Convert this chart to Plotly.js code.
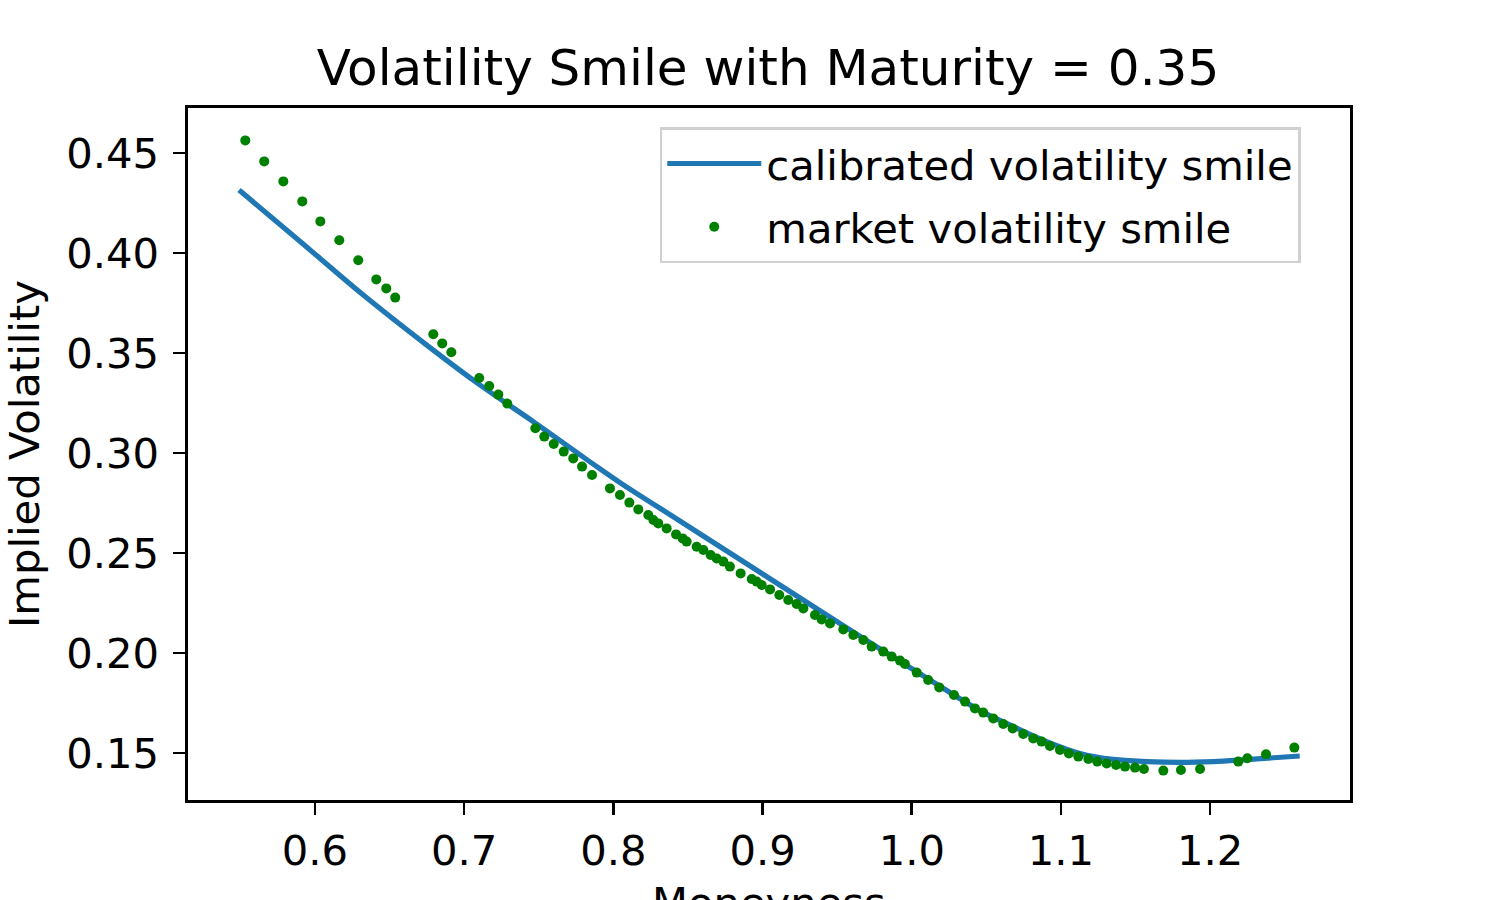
<!DOCTYPE html>
<html>
<head>
<meta charset="utf-8">
<script src="https://cdn.plot.ly/plotly-3.0.1.min.js"></script>
<style>
  html, body { margin: 0; padding: 0; background: #fff; }
  #chart { width: 1500px; height: 900px; }
</style>
</head>
<body>
<div id="chart"></div>
<script>
// market quotes (moneyness, implied vol)
const marketMoneyness = [
  0.5533, 0.5660, 0.5788, 0.5915, 0.6036, 0.6163, 0.6290, 0.6411, 0.6478, 0.6538,
  0.6793, 0.6853, 0.6914, 0.7101, 0.7168, 0.7229, 0.7289, 0.7477, 0.7537, 0.7600,
  0.7667, 0.7731, 0.7790, 0.7857, 0.7977, 0.8044, 0.8107, 0.8167, 0.8234, 0.8268,
  0.8301, 0.8357, 0.8420, 0.8464, 0.8491, 0.8558, 0.8603, 0.8652, 0.8692, 0.8737,
  0.8781, 0.8853, 0.8927, 0.8960, 0.8994, 0.9050, 0.9112, 0.9172, 0.9228, 0.9273,
  0.9351, 0.9396, 0.9452, 0.9541, 0.9608, 0.9675, 0.9731, 0.9809, 0.9865, 0.9921,
  0.9954, 1.0033, 1.0110, 1.0184, 1.0283, 1.0357, 1.0423, 1.0479, 1.0546, 1.0613,
  1.0676, 1.0747, 1.0814, 1.0870, 1.0926, 1.0993, 1.1053, 1.1116, 1.1183, 1.1243,
  1.1306, 1.1369, 1.1429, 1.1496, 1.1556, 1.1686, 1.1804, 1.1932, 1.2188, 1.2249,
  1.2374, 1.2564
];
const marketVol = [
  0.4563, 0.4458, 0.4358, 0.4258, 0.4158, 0.4064, 0.3964, 0.3868, 0.3823, 0.3777,
  0.3594, 0.3548, 0.3504, 0.3375, 0.3335, 0.3292, 0.3247, 0.3124, 0.3082, 0.3045,
  0.3007, 0.2973, 0.2932, 0.2890, 0.2823, 0.2790, 0.2752, 0.2718, 0.2690, 0.2665,
  0.2648, 0.2623, 0.2593, 0.2573, 0.2557, 0.2531, 0.2515, 0.2490, 0.2473, 0.2457,
  0.2432, 0.2398, 0.2370, 0.2357, 0.2340, 0.2318, 0.2290, 0.2265, 0.2245, 0.2223,
  0.2190, 0.2168, 0.2148, 0.2118, 0.2090, 0.2065, 0.2032, 0.2007, 0.1982, 0.1962,
  0.1945, 0.1902, 0.1865, 0.1828, 0.1790, 0.1757, 0.1723, 0.1702, 0.1673, 0.1645,
  0.1623, 0.1595, 0.1573, 0.1557, 0.1535, 0.1515, 0.1498, 0.1482, 0.1470, 0.1457,
  0.1448, 0.1440, 0.1432, 0.1427, 0.1420, 0.1412, 0.1415, 0.1420, 0.1457, 0.1474,
  0.1494, 0.1527
];

// calibrated smile, sampled off the drawn curve
const calibMoneyness = [
  0.5491, 0.5877, 0.6324, 0.6771, 0.7106, 0.7463, 0.7854, 0.8044, 0.8446, 0.8781,
  0.9228, 0.9675, 1.0122, 1.0457, 1.0680, 1.0904, 1.1127, 1.1351, 1.1574, 1.1797,
  1.2021, 1.2244, 1.2600
];
const calibVol = [
  0.4315, 0.4073, 0.3790, 0.3527, 0.3340, 0.3157, 0.2950, 0.2852, 0.2660, 0.2500,
  0.2286, 0.2073, 0.1865, 0.1712, 0.1632, 0.1557, 0.1498, 0.1468, 0.1457, 0.1453,
  0.1457, 0.1467, 0.1485
];

const xTicks = [0.6, 0.7, 0.8, 0.9, 1.0, 1.1, 1.2];
const xTickText = ["0.6", "0.7", "0.8", "0.9", "1.0", "1.1", "1.2"];
const yTicks = [0.15, 0.20, 0.25, 0.30, 0.35, 0.40, 0.45];
const yTickText = ["0.15", "0.20", "0.25", "0.30", "0.35", "0.40", "0.45"];

const FONT = "DejaVu Sans, sans-serif";
const TICK_SIZE = 41.7;   // 10pt at 300 dpi
const TITLE_SIZE = 50;    // 12pt at 300 dpi

const calibTrace = {
  x: calibMoneyness,
  y: calibVol,
  mode: "lines",
  name: "calibrated volatility smile",
  legendgroup: "calib",
  line: {color: "#1f77b4", width: 5.2, shape: "spline", smoothing: 1}
};

const marketTrace = {
  x: marketMoneyness,
  y: marketVol,
  mode: "markers",
  name: "market volatility smile",
  legendgroup: "market",
  marker: {color: "green", size: 10}
};

const axisCommon = {
  showline: true,
  mirror: true,
  linecolor: "#000",
  linewidth: 2.6,
  showgrid: false,
  zeroline: false,
  ticks: "outside",
  ticklen: 12,
  tickwidth: 2.6,
  tickcolor: "#000",
  tickfont: {size: TICK_SIZE, family: FONT, color: "#000"},
  tickmode: "array"
};

const layout = {
  width: 1500,
  height: 900,
  paper_bgcolor: "#fff",
  plot_bgcolor: "#fff",
  margin: {l: 188, r: 150, t: 108, b: 100},
  title: {
    text: "Volatility Smile with Maturity = 0.35",
    font: {size: TITLE_SIZE, family: FONT, color: "#000"},
    x: 0.512, xanchor: "center",
    y: 0.925, yanchor: "middle"
  },
  xaxis: Object.assign({}, axisCommon, {
    range: [0.5149, 1.2937],
    tickvals: xTicks,
    ticktext: xTickText,
    ticklabelstandoff: 0
  }),
  yaxis: Object.assign({}, axisCommon, {
    range: [0.1265, 0.4725],
    tickvals: yTicks,
    ticktext: yTickText,
    ticklabelstandoff: 6,
    title: {text: "Implied Volatility", font: {size: TICK_SIZE, family: FONT, color: "#000"}, standoff: 16}
  }),
  // x label sits partly below the page edge, as in the original figure
  annotations: [{
    text: "Moneyness",
    xref: "paper", yref: "paper",
    x: 0.5, y: -0.110,
    xanchor: "center", yanchor: "top",
    showarrow: false,
    font: {size: TICK_SIZE, family: FONT, color: "#000"}
  }],
  legend: {
    x: 0.406, y: 0.972,
    xanchor: "left", yanchor: "top",
    bgcolor: "rgba(255,255,255,0.8)",
    bordercolor: "#d0d0d0",
    borderwidth: 2.5,
    itemwidth: 94,
    traceorder: "grouped",
    tracegroupgap: 6,
    font: {size: TICK_SIZE, family: FONT, color: "#000"}
  },
  showlegend: true
};

Plotly.newPlot("chart", [calibTrace, marketTrace], layout, {displayModeBar: false, staticPlot: true});
</script>
</body>
</html>
